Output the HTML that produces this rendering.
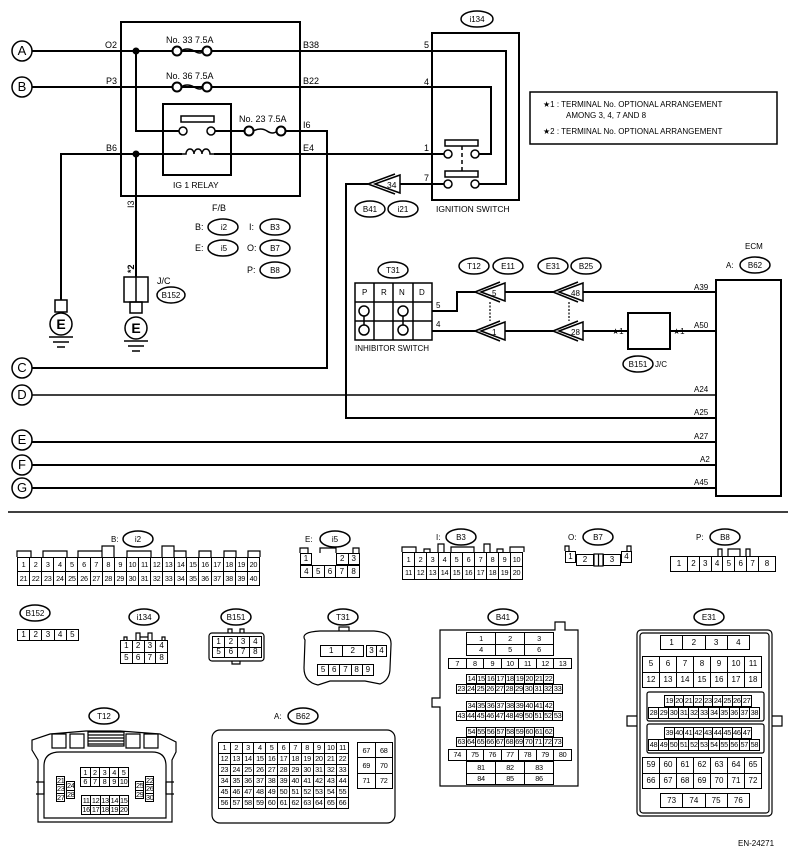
<!DOCTYPE html>
<html><head><meta charset="utf-8"><style>
body{margin:0;background:#fff;width:797px;height:855px;position:relative;overflow:hidden;font-family:"Liberation Sans",sans-serif}
svg{position:absolute;left:0;top:0}
table{position:absolute;border-collapse:collapse;table-layout:fixed;font:8px "Liberation Sans",sans-serif;background:#fff}
td{border:1px solid #000;text-align:center;padding:0;line-height:1;overflow:hidden}
.s td{font-size:7.3px;letter-spacing:-0.3px}
</style></head><body>
<svg width="797" height="855" viewBox="0 0 797 855" font-family="Liberation Sans, sans-serif" font-size="9" fill="none" stroke="#000">
<g stroke-width="2">
<rect x="121" y="22" width="179" height="174"/>
<rect x="163" y="104" width="68" height="71"/>
<rect x="432" y="33" width="87" height="167"/>
<rect x="716" y="280" width="65" height="216"/>
<rect x="628" y="313" width="42" height="36"/>
<path d="M32 51H172M182 51H202M212 51H506V184H479"/>
<path d="M32 87H172M182 87H202M212 87H491V154H479"/>
<path d="M136 51V131H179M215 131H245M285 131H327V368H32"/>
<path d="M61 300V154H182M214 154H444"/>
<path d="M136 154V277"/>
<path d="M444 184H400M368 184H346V418H716"/>
<path d="M32 395H716" stroke-width="1.5"/>
<path d="M32 442H716M32 465H716M32 488H716"/>
<path d="M432 311H457V292H475M505 292H553M583 292H716"/>
<path d="M432 331H475M505 331H553M583 331H628M670 331H716"/>
<circle cx="177" cy="51" r="4.5" fill="#fff"/><circle cx="207" cy="51" r="4.5" fill="#fff"/>
<circle cx="177" cy="87" r="4.5" fill="#fff"/><circle cx="207" cy="87" r="4.5" fill="#fff"/>
<circle cx="249" cy="131" r="4.5" fill="#fff"/><circle cx="281" cy="131" r="4.5" fill="#fff"/>
</g>
<g stroke-width="1.5">
<path d="M181 51q6-4 13 0t9 0M181 87q6-4 13 0t9 0M253 131q8-4 14 0t10 0"/>
<rect x="181" y="116" width="33" height="6"/>
<circle cx="183" cy="131" r="4" fill="#fff"/><circle cx="211" cy="131" r="4" fill="#fff"/>
<path d="M182 154h4a4 5 0 0 1 8 0a4 5 0 0 1 8 0a4 5 0 0 1 8 0h4"/>
<rect x="445" y="140" width="33" height="6"/><rect x="445" y="171" width="33" height="6"/>
<circle cx="448" cy="154" r="4" fill="#fff"/><circle cx="475" cy="154" r="4" fill="#fff"/>
<circle cx="448" cy="184" r="4" fill="#fff"/><circle cx="475" cy="184" r="4" fill="#fff"/>
<path d="M462 146V171" stroke-dasharray="4 3"/>
<path d="M490 302V321M569 302V321" stroke-dasharray="2 1.5" stroke-width="1.2"/>
<rect x="55" y="300" width="12" height="12"/><circle cx="61" cy="324" r="11"/>
<path d="M49 337h24M53 342h16M57 347h8"/>
<rect x="124" y="277" width="24" height="25"/><path d="M136 277v25"/>
<rect x="130" y="302" width="12" height="11"/><circle cx="136" cy="328" r="11"/>
<path d="M124 341h24M128 346h16M132 351h8"/>
<rect x="355" y="283" width="77" height="57"/>
<path d="M355 302h77M355 321h77M374 283v57M393 283v57M413 283v57"/>
<circle cx="364" cy="311" r="5"/><circle cx="364" cy="330" r="5"/><path d="M364 316v9"/>
<circle cx="403" cy="311" r="5"/><circle cx="403" cy="330" r="5"/><path d="M403 316v9"/>
<rect x="530" y="92" width="247" height="52"/>
<path d="M368 184L395 174M368 184L395 194"/><path d="M375 184L400 175V193Z" fill="#fff"/>
<path d="M475 292L500 282M475 292L500 302M481 292L505 283V301Z" fill="#fff"/>
<path d="M475 331L500 321M475 331L500 341M481 331L505 322V340Z" fill="#fff"/>
<path d="M553 292L578 282M553 292L578 302M559 292L583 283V301Z" fill="#fff"/>
<path d="M553 331L578 321M553 331L578 341M559 331L583 322V340Z" fill="#fff"/>
<circle cx="22" cy="51" r="10"/><circle cx="22" cy="87" r="10"/><circle cx="22" cy="368" r="10"/>
<circle cx="22" cy="395" r="10"/><circle cx="22" cy="440" r="10"/><circle cx="22" cy="465" r="10"/><circle cx="22" cy="488" r="10"/>
<ellipse cx="223" cy="227" rx="15" ry="8"/><ellipse cx="223" cy="248" rx="15" ry="8"/>
<ellipse cx="275" cy="227" rx="15" ry="8"/><ellipse cx="275" cy="248" rx="15" ry="8"/><ellipse cx="275" cy="270" rx="15" ry="8"/>
<ellipse cx="171" cy="295" rx="14" ry="8"/>
<ellipse cx="477" cy="19" rx="16" ry="8"/>
<ellipse cx="370" cy="209" rx="15" ry="8"/><ellipse cx="403" cy="209" rx="15" ry="8"/>
<ellipse cx="393" cy="270" rx="15" ry="8"/>
<ellipse cx="474" cy="266" rx="15" ry="8"/><ellipse cx="508" cy="266" rx="15" ry="8"/>
<ellipse cx="553" cy="266" rx="15" ry="8"/><ellipse cx="586" cy="266" rx="15" ry="8"/>
<ellipse cx="755" cy="265" rx="15" ry="8"/><ellipse cx="638" cy="364" rx="15" ry="8"/>
<ellipse cx="138" cy="539" rx="15" ry="8"/><ellipse cx="335" cy="539" rx="15" ry="8"/>
<ellipse cx="461" cy="537" rx="15" ry="8"/><ellipse cx="598" cy="537" rx="15" ry="8"/><ellipse cx="725" cy="537" rx="15" ry="8"/>
<ellipse cx="35" cy="613" rx="15" ry="8"/><ellipse cx="144" cy="617" rx="15" ry="8"/><ellipse cx="236" cy="617" rx="15" ry="8"/>
<ellipse cx="343" cy="617" rx="15" ry="8"/><ellipse cx="503" cy="617" rx="15" ry="8"/><ellipse cx="709" cy="617" rx="15" ry="8"/>
<ellipse cx="104" cy="716" rx="15" ry="8"/><ellipse cx="303" cy="716" rx="15" ry="8"/>
</g>
<path d="M8 512H788" stroke-width="1.5"/>
<g stroke-width="1.2">
<path d="M440 630H555V622H565V630H578V786H440V707H432V698H440Z"/>
<rect x="637" y="630" width="135" height="186" rx="4"/><rect x="640" y="633" width="129" height="180" rx="3"/>
<path d="M637 716h-10v10h10M772 716h10v10h-10"/>
<rect x="647" y="692" width="117" height="29" rx="2"/><rect x="647" y="724" width="117" height="29" rx="2"/>
<rect x="212" y="730" width="183" height="93" rx="8"/>
<path d="M305 640Q300 632 320 631H374Q392 632 391 645L390 668Q390 680 380 684L365 681H330L318 685Q304 682 304 668Z"/>
<path d="M339 631v-4h10v4"/>
<rect x="209" y="633" width="55" height="28" rx="3"/><path d="M228 633v-4h4v4M240 633v-4h4v4M232 661v3h8v-3"/>
<path d="M38 822V760L32 750V740L50 734L86 731H120L160 734L176 742V752L172 760V822Z"/>
<path d="M44 818V766Q44 752 60 752H152Q166 752 166 766V818Z"/>
<path d="M52 734h14v14h-14zM70 734h14v14h-14zM126 734h14v14h-14zM144 734h14v14h-14zM88 732h36v14h-36z"/>
<path d="M88 735h36M88 738h36M88 741h36M88 744h36"/>
<path d="M36 782h8v12h-8M174 782h-8v12h8"/>
<path d="M402 552v-5h14v5M424 552v-3h6v3M438 552v-8h6v8M451 552v-5h23v5M484 552v-8h6v8M497 552v-3h6v3M510 552v-5h14v5"/>
<path d="M17 557v-6h14v6M43 557v-6h24v6M78 557v-6h24v6M102 557v-11h12v11M127 557v-6h24v6M162 557v-11h12v11M174 557v-6h12v6M199 557v-6h12v6M224 557v-6h12v6M248 557v-6h12v6"/>
<path d="M300 553v-5h8v5M353 553v-5h6v5M320 553v-5h16v5"/>
<path d="M565 551v-5h4v5M627 551v-5h4v5"/>
<rect x="594" y="554" width="9" height="12"/><path d="M598.5 554v12"/>
<path d="M718 556v-7h4v7M728 556v-7h12v7M746 556v-7h4v7"/>
<path d="M124 640v-3h3v3M136 640v-7h4v7M140 637h8M148 640v-7h4v7M162 640v-3h3v3"/>
</g>
<g fill="#000" stroke="none">
<circle cx="136" cy="51" r="3.5"/><circle cx="136" cy="154" r="3.5"/>
<text x="22" y="55" font-size="13" text-anchor="middle">A</text>
<text x="22" y="91" font-size="13" text-anchor="middle">B</text>
<text x="22" y="372" font-size="13" text-anchor="middle">C</text>
<text x="22" y="399" font-size="13" text-anchor="middle">D</text>
<text x="22" y="444" font-size="13" text-anchor="middle">E</text>
<text x="22" y="469" font-size="13" text-anchor="middle">F</text>
<text x="22" y="492" font-size="13" text-anchor="middle">G</text>
<text x="61" y="329" font-size="14" font-weight="bold" text-anchor="middle">E</text>
<text x="136" y="333" font-size="14" font-weight="bold" text-anchor="middle">E</text>
<text x="105" y="48">O2</text><text x="106" y="84">P3</text><text x="106" y="151">B6</text>
<text x="303" y="48">B38</text><text x="303" y="84">B22</text><text x="303" y="128">I6</text><text x="303" y="151">E4</text>
<text x="166" y="43">No. 33  7.5A</text><text x="166" y="79">No. 36  7.5A</text><text x="239" y="122">No. 23  7.5A</text>
<text x="173" y="188" font-size="8.5">IG 1 RELAY</text>
<text x="212" y="211">F/B</text>
<text x="195" y="230">B:</text><text x="195" y="251">E:</text><text x="249" y="230">I:</text><text x="247" y="251">O:</text><text x="247" y="273">P:</text>
<text transform="translate(134,208) rotate(-90)">I3</text>
<text transform="translate(134,273) rotate(-90)" font-weight="bold">*2</text>
<text x="157" y="284">J/C</text>
<text x="424" y="48">5</text><text x="424" y="85">4</text><text x="424" y="151">1</text><text x="424" y="181">7</text>
<text x="436" y="212" font-size="8.5">IGNITION SWITCH</text>
<text x="387" y="188" font-size="8.5">34</text>
<g font-size="8">
<text x="224" y="230" text-anchor="middle">i2</text><text x="224" y="251" text-anchor="middle">i5</text>
<text x="275" y="230" text-anchor="middle">B3</text><text x="275" y="251" text-anchor="middle">B7</text><text x="275" y="273" text-anchor="middle">B8</text>
<text x="171" y="298" text-anchor="middle">B152</text><text x="477" y="22" text-anchor="middle">i134</text>
<text x="370" y="212" text-anchor="middle">B41</text><text x="403" y="212" text-anchor="middle">i21</text>
<text x="393" y="273" text-anchor="middle">T31</text><text x="474" y="269" text-anchor="middle">T12</text><text x="508" y="269" text-anchor="middle">E11</text>
<text x="553" y="269" text-anchor="middle">E31</text><text x="586" y="269" text-anchor="middle">B25</text>
<text x="755" y="268" text-anchor="middle">B62</text><text x="638" y="367" text-anchor="middle">B151</text>
<text x="655" y="367">J/C</text><text x="726" y="268">A:</text><text x="745" y="249">ECM</text>
<text x="362" y="295">P</text><text x="381" y="295">R</text><text x="399" y="295">N</text><text x="419" y="295">D</text>
<text x="355" y="351">INHIBITOR SWITCH</text>
<text x="436" y="308">5</text><text x="436" y="327">4</text>
<text x="492" y="296">5</text><text x="492" y="335">1</text><text x="571" y="296">48</text><text x="571" y="335">28</text>
<text x="612" y="334">★1</text><text x="673" y="334">★1</text>
<text x="694" y="290">A39</text><text x="694" y="328">A50</text><text x="694" y="392">A24</text><text x="694" y="415">A25</text>
<text x="694" y="439">A27</text><text x="700" y="462">A2</text><text x="694" y="485">A45</text>
<text x="543" y="107">★1  : TERMINAL No. OPTIONAL ARRANGEMENT</text>
<text x="566" y="118">AMONG 3, 4, 7 AND 8</text>
<text x="543" y="134">★2  : TERMINAL No. OPTIONAL ARRANGEMENT</text>
<text x="111" y="542">B:</text><text x="138" y="542" text-anchor="middle">i2</text>
<text x="305" y="542">E:</text><text x="335" y="542" text-anchor="middle">i5</text>
<text x="436" y="540">I:</text><text x="461" y="540" text-anchor="middle">B3</text>
<text x="568" y="540">O:</text><text x="598" y="540" text-anchor="middle">B7</text>
<text x="696" y="540">P:</text><text x="725" y="540" text-anchor="middle">B8</text>
<text x="35" y="616" text-anchor="middle">B152</text><text x="144" y="620" text-anchor="middle">i134</text><text x="236" y="620" text-anchor="middle">B151</text>
<text x="343" y="620" text-anchor="middle">T31</text><text x="503" y="620" text-anchor="middle">B41</text><text x="709" y="620" text-anchor="middle">E31</text>
<text x="104" y="719" text-anchor="middle">T12</text><text x="274" y="719">A:</text><text x="303" y="719" text-anchor="middle">B62</text>
<text x="738" y="846">EN-24271</text>
</g>
</g>
</svg>

<table class="s" style="left:17px;top:557px;width:243px;height:29px"><tr><td>1</td><td>2</td><td>3</td><td>4</td><td>5</td><td>6</td><td>7</td><td>8</td><td>9</td><td>10</td><td>11</td><td>12</td><td>13</td><td>14</td><td>15</td><td>16</td><td>17</td><td>18</td><td>19</td><td>20</td></tr><tr><td>21</td><td>22</td><td>23</td><td>24</td><td>25</td><td>26</td><td>27</td><td>28</td><td>29</td><td>30</td><td>31</td><td>32</td><td>33</td><td>34</td><td>35</td><td>36</td><td>37</td><td>38</td><td>39</td><td>40</td></tr></table>
<table style="left:300px;top:553px;width:12px;height:12px"><tr><td>1</td></tr></table>
<table style="left:336px;top:553px;width:24px;height:12px"><tr><td>2</td><td>3</td></tr></table>
<table style="left:300px;top:565px;width:60px;height:13px"><tr><td>4</td><td>5</td><td>6</td><td>7</td><td>8</td></tr></table>
<table class="s" style="left:402px;top:552px;width:121px;height:28px"><tr><td>1</td><td>2</td><td>3</td><td>4</td><td>5</td><td>6</td><td>7</td><td>8</td><td>9</td><td>10</td></tr><tr><td>11</td><td>12</td><td>13</td><td>14</td><td>15</td><td>16</td><td>17</td><td>18</td><td>19</td><td>20</td></tr></table>
<table style="left:565px;top:551px;width:11px;height:12px"><tr><td>1</td></tr></table>
<table style="left:576px;top:554px;width:18px;height:12px"><tr><td>2</td></tr></table>
<table style="left:603px;top:554px;width:18px;height:12px"><tr><td>3</td></tr></table>
<table style="left:621px;top:551px;width:11px;height:12px"><tr><td>4</td></tr></table>
<table style="left:670px;top:556px;width:106px;height:16px"><tr><td style="width:16px">1</td><td>2</td><td>3</td><td>4</td><td>5</td><td>6</td><td>7</td><td style="width:16px">8</td></tr></table>
<table style="left:17px;top:629px;width:62px;height:12px"><tr><td>1</td><td>2</td><td>3</td><td>4</td><td>5</td></tr></table>
<table style="left:120px;top:640px;width:48px;height:24px"><tr><td>1</td><td>2</td><td>3</td><td>4</td></tr><tr><td>5</td><td>6</td><td>7</td><td>8</td></tr></table>
<table style="left:212px;top:636px;width:50px;height:22px"><tr><td>1</td><td>2</td><td>3</td><td>4</td></tr><tr><td>5</td><td>6</td><td>7</td><td>8</td></tr></table>
<table style="left:320px;top:645px;width:44px;height:12px"><tr><td>1</td><td>2</td></tr></table>
<table style="left:366px;top:645px;width:21px;height:12px"><tr><td>3</td><td>4</td></tr></table>
<table style="left:317px;top:664px;width:57px;height:12px"><tr><td>5</td><td>6</td><td>7</td><td>8</td><td>9</td></tr></table>
<table class="s" style="left:466px;top:632px;width:88px;height:24px"><tr><td>1</td><td>2</td><td>3</td></tr><tr><td>4</td><td>5</td><td>6</td></tr></table>
<table class="s" style="left:448px;top:658px;width:124px;height:11px"><tr><td>7</td><td>8</td><td>9</td><td>10</td><td>11</td><td>12</td><td>13</td></tr></table>
<table class="s" style="left:466px;top:674px;width:88px;height:10px"><tr><td>14</td><td>15</td><td>16</td><td>17</td><td>18</td><td>19</td><td>20</td><td>21</td><td>22</td></tr></table>
<table class="s" style="left:456px;top:684px;width:107px;height:10px"><tr><td>23</td><td>24</td><td>25</td><td>26</td><td>27</td><td>28</td><td>29</td><td>30</td><td>31</td><td>32</td><td>33</td></tr></table>
<table class="s" style="left:466px;top:701px;width:88px;height:10px"><tr><td>34</td><td>35</td><td>36</td><td>37</td><td>38</td><td>39</td><td>40</td><td>41</td><td>42</td></tr></table>
<table class="s" style="left:456px;top:711px;width:107px;height:10px"><tr><td>43</td><td>44</td><td>45</td><td>46</td><td>47</td><td>48</td><td>49</td><td>50</td><td>51</td><td>52</td><td>53</td></tr></table>
<table class="s" style="left:466px;top:727px;width:88px;height:10px"><tr><td>54</td><td>55</td><td>56</td><td>57</td><td>58</td><td>59</td><td>60</td><td>61</td><td>62</td></tr></table>
<table class="s" style="left:456px;top:737px;width:107px;height:10px"><tr><td>63</td><td>64</td><td>65</td><td>66</td><td>67</td><td>68</td><td>69</td><td>70</td><td>71</td><td>72</td><td>73</td></tr></table>
<table class="s" style="left:448px;top:749px;width:124px;height:12px"><tr><td>74</td><td>75</td><td>76</td><td>77</td><td>78</td><td>79</td><td>80</td></tr></table>
<table class="s" style="left:466px;top:761px;width:88px;height:24px"><tr><td>81</td><td>82</td><td>83</td></tr><tr><td>84</td><td>85</td><td>86</td></tr></table>
<table style="left:660px;top:635px;width:90px;height:15px"><tr><td>1</td><td>2</td><td>3</td><td>4</td></tr></table>
<table style="left:642px;top:656px;width:120px;height:32px"><tr><td>5</td><td>6</td><td>7</td><td>8</td><td>9</td><td>10</td><td>11</td></tr><tr><td>12</td><td>13</td><td>14</td><td>15</td><td>16</td><td>17</td><td>18</td></tr></table>
<table class="s" style="left:664px;top:695px;width:88px;height:12px"><tr><td>19</td><td>20</td><td>21</td><td>22</td><td>23</td><td>24</td><td>25</td><td>26</td><td>27</td></tr></table>
<table class="s" style="left:648px;top:707px;width:112px;height:12px"><tr><td>28</td><td>29</td><td>30</td><td>31</td><td>32</td><td>33</td><td>34</td><td>35</td><td>36</td><td>37</td><td>38</td></tr></table>
<table class="s" style="left:664px;top:727px;width:88px;height:12px"><tr><td>39</td><td>40</td><td>41</td><td>42</td><td>43</td><td>44</td><td>45</td><td>46</td><td>47</td></tr></table>
<table class="s" style="left:648px;top:739px;width:112px;height:12px"><tr><td>48</td><td>49</td><td>50</td><td>51</td><td>52</td><td>53</td><td>54</td><td>55</td><td>56</td><td>57</td><td>58</td></tr></table>
<table style="left:642px;top:757px;width:120px;height:32px"><tr><td>59</td><td>60</td><td>61</td><td>62</td><td>63</td><td>64</td><td>65</td></tr><tr><td>66</td><td>67</td><td>68</td><td>69</td><td>70</td><td>71</td><td>72</td></tr></table>
<table style="left:660px;top:793px;width:90px;height:15px"><tr><td>73</td><td>74</td><td>75</td><td>76</td></tr></table>
<table class="s" style="left:80px;top:767px;width:49px;height:20px"><tr><td>1</td><td>2</td><td>3</td><td>4</td><td>5</td></tr><tr><td>6</td><td>7</td><td>8</td><td>9</td><td>10</td></tr></table>
<table class="s" style="left:81px;top:795px;width:48px;height:20px"><tr><td>11</td><td>12</td><td>13</td><td>14</td><td>15</td></tr><tr><td>16</td><td>17</td><td>18</td><td>19</td><td>20</td></tr></table>
<table class="s" style="left:56px;top:776px;width:9px;height:26px"><tr><td>21</td></tr><tr><td>23</td></tr><tr><td>27</td></tr></table>
<table class="s" style="left:66px;top:781px;width:9px;height:18px"><tr><td>24</td></tr><tr><td>28</td></tr></table>
<table class="s" style="left:135px;top:781px;width:9px;height:18px"><tr><td>25</td></tr><tr><td>29</td></tr></table>
<table class="s" style="left:145px;top:776px;width:9px;height:26px"><tr><td>22</td></tr><tr><td>26</td></tr><tr><td>30</td></tr></table>
<table class="s" style="left:218px;top:742px;width:131px;height:67px"><tr><td>1</td><td>2</td><td>3</td><td>4</td><td>5</td><td>6</td><td>7</td><td>8</td><td>9</td><td>10</td><td>11</td></tr><tr><td>12</td><td>13</td><td>14</td><td>15</td><td>16</td><td>17</td><td>18</td><td>19</td><td>20</td><td>21</td><td>22</td></tr><tr><td>23</td><td>24</td><td>25</td><td>26</td><td>27</td><td>28</td><td>29</td><td>30</td><td>31</td><td>32</td><td>33</td></tr><tr><td>34</td><td>35</td><td>36</td><td>37</td><td>38</td><td>39</td><td>40</td><td>41</td><td>42</td><td>43</td><td>44</td></tr><tr><td>45</td><td>46</td><td>47</td><td>48</td><td>49</td><td>50</td><td>51</td><td>52</td><td>53</td><td>54</td><td>55</td></tr><tr><td>56</td><td>57</td><td>58</td><td>59</td><td>60</td><td>61</td><td>62</td><td>63</td><td>64</td><td>65</td><td>66</td></tr></table>
<table class="s" style="left:357px;top:742px;width:36px;height:47px"><tr><td>67</td><td>68</td></tr><tr><td>69</td><td>70</td></tr><tr><td>71</td><td>72</td></tr></table>
</body></html>
